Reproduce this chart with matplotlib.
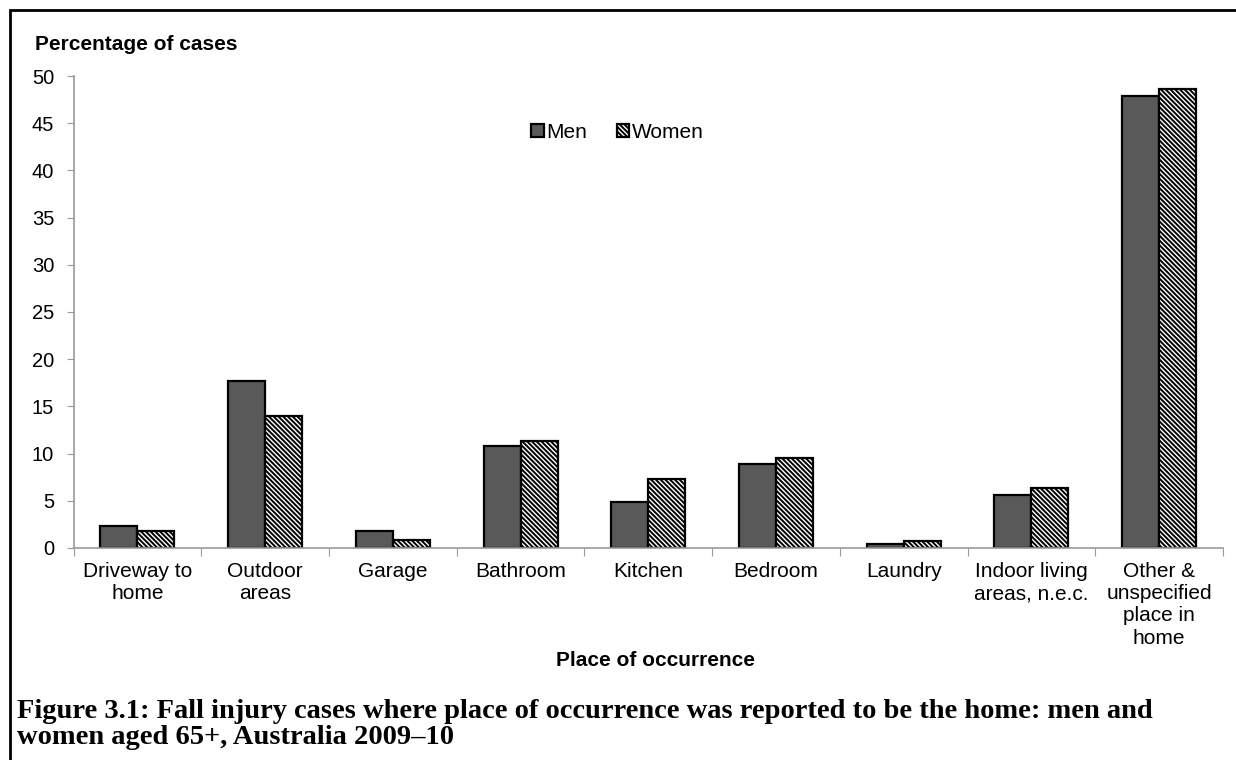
import matplotlib
matplotlib.use("Agg")
import matplotlib.pyplot as plt
import matplotlib.patches as mpatches
import numpy as np

categories = ["Driveway to\nhome", "Outdoor\nareas", "Garage", "Bathroom", "Kitchen",
              "Bedroom", "Laundry", "Indoor living\nareas, n.e.c.",
              "Other &\nunspecified\nplace in\nhome"]
men = [2.3, 17.7, 1.8, 10.8, 4.9, 8.9, 0.4, 5.6, 47.9]
women = [1.8, 14.0, 0.8, 11.3, 7.3, 9.5, 0.7, 6.3, 48.6]
yticks = [0, 5, 10, 15, 20, 25, 30, 35, 40, 45, 50]

plt.rcParams['font.family'] = ['Liberation Sans', 'DejaVu Sans']
plt.rcParams['hatch.linewidth'] = 1.4

fig = plt.figure(figsize=(12.36, 7.6), dpi=100)
ax = fig.add_axes([0.0595, 0.279, 0.9300, 0.621])

x = np.arange(len(categories))
w = 0.29
ax.bar(x - w/2, men, w, color="#595959", edgecolor="black", linewidth=1.6, label="Men")
ax.bar(x + w/2, women, w, color="white", edgecolor="black", linewidth=1.6,
       hatch="\\" * 7, label="Women")

ax.set_xlim(-0.5, len(categories) - 0.5)
ax.set_ylim(0, 50)
ax.set_yticks(yticks)
ax.tick_params(axis='y', labelsize=14.5, color="#999999", length=5, direction='out', pad=9)
ax.set_xticks(np.arange(len(categories) + 1) - 0.5, minor=False)
ax.set_xticklabels([])
ax.set_xticks(x, minor=True)
ax.set_xticklabels(categories, minor=True, fontsize=15, linespacing=1.22)
ax.tick_params(axis='x', which='major', color="#999999", length=6, direction='out')
ax.tick_params(axis='x', which='minor', length=0, pad=10)
for s in ["top", "right"]:
    ax.spines[s].set_visible(False)
for s in ["left", "bottom"]:
    ax.spines[s].set_color("#999999")
    ax.spines[s].set_linewidth(1.2)

ax.legend(loc="center left", bbox_to_anchor=(0.398, 0.881), ncol=2, frameon=False,
          fontsize=15, handlelength=0.6, handleheight=0.6, handletextpad=0.15,
          columnspacing=1.4, borderaxespad=0, borderpad=0)

fig.text(35/1236, 1 - 44/760, "Percentage of cases", fontsize=15, fontweight="bold",
         va="center", ha="left")
fig.text(656/1236, 1 - 661/760, "Place of occurrence", fontsize=15, fontweight="bold",
         va="center", ha="center")
fig.text(17/1236, 1 - 711/760,
         "Figure 3.1: Fall injury cases where place of occurrence was reported to be the home: men and",
         fontsize=20.5, fontweight="bold", family="Liberation Serif", va="center", ha="left")
fig.text(17/1236, 1 - 737/760, "women aged 65+, Australia 2009\u201310",
         fontsize=20.5, fontweight="bold", family="Liberation Serif", va="center", ha="left")

fig.patches.append(mpatches.Rectangle((10/1236, -0.1), 1.2, 1 - 10/760 + 0.1,
                                      transform=fig.transFigure, fill=False,
                                      edgecolor="black", linewidth=2, figure=fig))

fig.savefig("out.png", dpi=100)
